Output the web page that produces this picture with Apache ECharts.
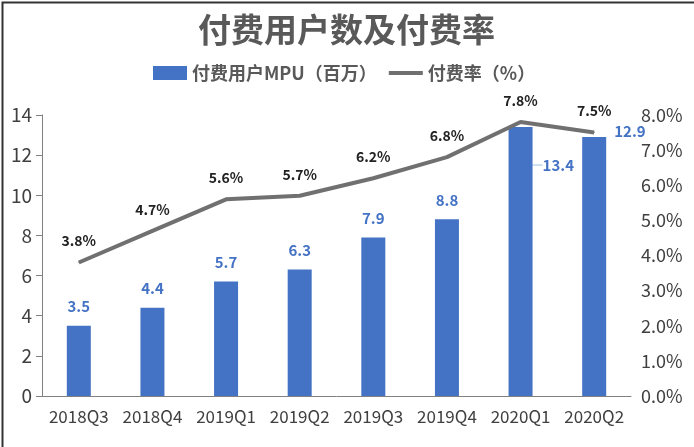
<!DOCTYPE html>
<html><head><meta charset="utf-8">
<script src="https://cdn.jsdelivr.net/npm/echarts@6/dist/echarts.min.js"></script>
<style>html,body{margin:0;padding:0;background:#fff;}#c{width:694px;height:447px;}</style>
</head><body><div id="c"></div>
<script>
const categories = ['2018Q3','2018Q4','2019Q1','2019Q2','2019Q3','2019Q4','2020Q1','2020Q2'];
const paidUsers = [3.5, 4.4, 5.7, 6.3, 7.9, 8.8, 13.4, 12.9];
const paidRate = [3.8, 4.7, 5.6, 5.7, 6.2, 6.8, 7.8, 7.5];
const leftTicks = [0, 2, 4, 6, 8, 10, 12, 14];
const rightTicks = [0, 1, 2, 3, 4, 5, 6, 7, 8];

const font = '"Noto Sans CJK SC", "DejaVu Sans", sans-serif';
const chart = echarts.init(document.getElementById('c'));
const barData = paidUsers.map((v, i) => {
  if (i === 6) return {value: v, label: {position: [34, 38], align: 'left', verticalAlign: 'middle'},
    labelLine: {show: true, lineStyle: {color: '#9dc3e6', width: 1}}};
  if (i === 7) return {value: v, label: {position: [32, -6], align: 'left', verticalAlign: 'middle'}};
  return v;
});
chart.setOption({
  animation: false,
  title: {
    text: '付费用户数及付费率', left: 193, top: 8,
    textStyle: {fontFamily: font, fontSize: 33, fontWeight: 'bold', color: '#595959'}
  },
  legend: {
    top: 59, left: 148, itemGap: 12, itemWidth: 34, itemHeight: 14,
    textStyle: {fontFamily: font, fontSize: 18, fontWeight: 'bold', color: '#595959'},
    data: [
      {name: '付费用户MPU（百万）', icon: 'rect'},
      {name: '付费率（%）', icon: 'path://M0,0 H34 V4 H0 Z'}
    ]
  },
  grid: {left: 42, right: 63, top: 115, bottom: 51, containLabel: false},
  xAxis: {
    type: 'category', data: categories,
    axisLine: {lineStyle: {color: '#808080', width: 1}},
    axisTick: {show: false},
    axisLabel: {fontFamily: font, fontSize: 17, color: '#404040', margin: 12, interval: 0}
  },
  yAxis: [
    {
      type: 'value', min: leftTicks[0], max: leftTicks[leftTicks.length - 1], interval: 2,
      axisLine: {show: true, lineStyle: {color: '#808080'}},
      axisTick: {show: true, length: 6, lineStyle: {color: '#808080'}},
      splitLine: {show: false},
      axisLabel: {fontFamily: font, fontSize: 19, color: '#404040', margin: 10}
    },
    {
      type: 'value', min: rightTicks[0], max: rightTicks[rightTicks.length - 1], interval: 1,
      axisLine: {show: false}, axisTick: {show: false}, splitLine: {show: false},
      axisLabel: {fontFamily: font, fontSize: 18, color: '#404040', margin: 10,
        formatter: v => v.toFixed(1) + '%'}
    }
  ],
  series: [
    {
      name: '付费用户MPU（百万）', type: 'bar', data: barData, barWidth: 24,
      itemStyle: {color: '#4472C4'},
      label: {show: true, position: 'top', distance: 12, color: '#4472C4',
        fontFamily: font, fontSize: 15, fontWeight: 'bold'}
    },
    {
      name: '付费率（%）', type: 'line', yAxisIndex: 1, data: paidRate,
      symbol: 'circle', symbolSize: 1, showSymbol: true,
      lineStyle: {color: '#707070', width: 4}, itemStyle: {color: '#707070'},
      label: {show: true, position: 'top', distance: 14, color: '#222',
        fontFamily: font, fontSize: 14, fontWeight: 'bold', formatter: p => p.value.toFixed(1) + '%'}
    }
  ],
  graphic: [
    {type: 'rect', left: 0, top: 0, shape: {width: 693, height: 446},
      style: {fill: 'none', stroke: '#333', lineWidth: 2}, silent: true}
  ]
});
</script></body></html>
